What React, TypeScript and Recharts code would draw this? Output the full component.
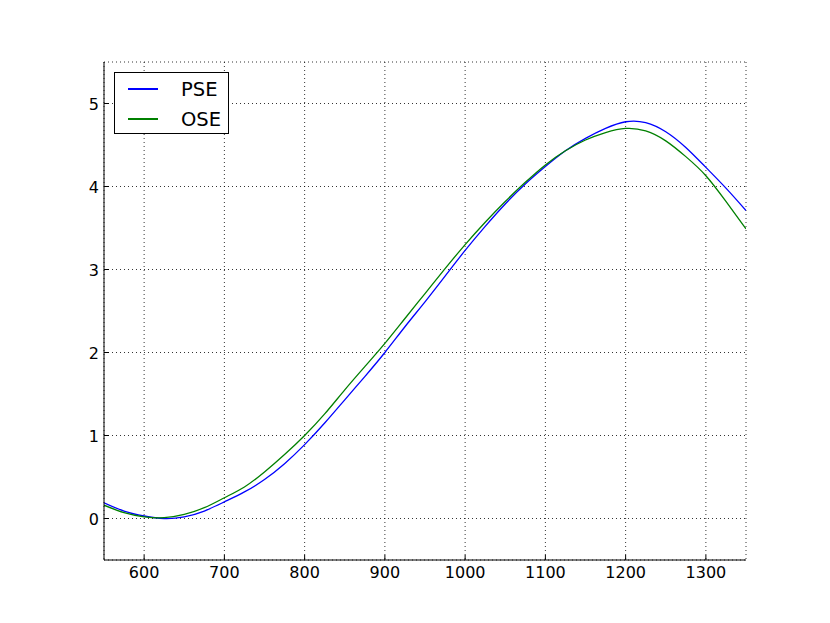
import { LineChart, Line, XAxis, YAxis, CartesianGrid } from "recharts"

const wavelengths = [
  550, 575, 600, 625, 650, 675, 700, 725, 750, 775, 800, 825, 850, 875, 900, 925, 950,
  975, 1000, 1025, 1050, 1075, 1100, 1125, 1150, 1175, 1200, 1225, 1250, 1275, 1300, 1325, 1350,
]

const pse = [
  0.19, 0.09, 0.03, 0.0, 0.02, 0.09, 0.2, 0.32, 0.47, 0.66, 0.89, 1.15, 1.43, 1.71, 2.0, 2.31, 2.61,
  2.92, 3.23, 3.52, 3.79, 4.03, 4.24, 4.43, 4.58, 4.7, 4.78, 4.77, 4.66, 4.47, 4.23, 3.98, 3.71,
]

const ose = [
  0.16, 0.07, 0.02, 0.01, 0.05, 0.13, 0.25, 0.38, 0.56, 0.77, 1.0, 1.26, 1.55, 1.83, 2.11, 2.41, 2.71,
  3.01, 3.3, 3.57, 3.82, 4.05, 4.26, 4.43, 4.56, 4.65, 4.7, 4.67, 4.55, 4.36, 4.13, 3.82, 3.49,
]

const xTicks = [600, 700, 800, 900, 1000, 1100, 1200, 1300]
const yTicks = [0, 1, 2, 3, 4, 5]

const series = [
  { key: "pse", name: "PSE", color: "#0000ff" },
  { key: "ose", name: "OSE", color: "#008000" },
]

const data = wavelengths.map((w, i) => ({ w, pse: pse[i], ose: ose[i] }))

const FONT = "'DejaVu Sans', sans-serif"

const BottomTick = ({ x, y, payload }: any) => (
  <g>
    <line x1={x} x2={x} y1={y} y2={y - 5} stroke="#000" />
    <text x={x} y={y + 18} textAnchor="middle" fontSize={16} fontFamily={FONT} fill="#000">
      {payload.value}
    </text>
  </g>
)

const TopTick = ({ x, y }: any) => <line x1={x} x2={x} y1={y} y2={y + 5} stroke="#000" />

const LeftTick = ({ x, y, payload }: any) => (
  <g>
    <line x1={x} x2={x + 5} y1={y} y2={y} stroke="#000" />
    <text x={x - 5} y={y + 6} textAnchor="end" fontSize={16} fontFamily={FONT} fill="#000">
      {payload.value}
    </text>
  </g>
)

const RightTick = ({ x, y }: any) => <line x1={x} x2={x - 5} y1={y} y2={y} stroke="#000" />

export default function App() {
  return (
    <div style={{ position: "absolute", left: 0, top: 0, background: "#fff" }}>
      <LineChart
        width={830}
        height={623}
        data={data}
        margin={{ top: 62, right: 84, bottom: 33, left: 64 }}
      >
        <CartesianGrid stroke="#000" strokeDasharray="1 3" strokeWidth={0.8} />
        <XAxis
          dataKey="w"
          type="number"
          domain={[550, 1350]}
          ticks={xTicks}
          height={30}
          tickSize={0}
          tickMargin={0}
          tick={<BottomTick />}
          axisLine={{ stroke: "#000" }}
          tickLine={false}
          allowDataOverflow
        />
        <XAxis
          xAxisId="top"
          orientation="top"
          dataKey="w"
          type="number"
          domain={[550, 1350]}
          ticks={xTicks}
          height={0}
          tickSize={0}
          tickMargin={0}
          tick={<TopTick />}
          axisLine={{ stroke: "#000" }}
          tickLine={false}
        />
        <YAxis
          type="number"
          domain={[-0.5, 5.5]}
          ticks={yTicks}
          width={40}
          tickSize={0}
          tickMargin={0}
          tick={<LeftTick />}
          axisLine={{ stroke: "#000" }}
          tickLine={false}
          allowDataOverflow
        />
        <YAxis
          yAxisId="right"
          orientation="right"
          type="number"
          domain={[-0.5, 5.5]}
          ticks={yTicks}
          width={0}
          tickSize={0}
          tickMargin={0}
          tick={<RightTick />}
          axisLine={{ stroke: "#000" }}
          tickLine={false}
        />
        {series.map((s) => (
          <Line
            key={s.key}
            dataKey={s.key}
            name={s.name}
            type="natural"
            stroke={s.color}
            strokeWidth={1.3}
            dot={false}
            isAnimationActive={false}
          />
        ))}
      </LineChart>
      <div
        style={{
          position: "absolute",
          left: 114,
          top: 72,
          border: "1px solid #000",
          background: "#fff",
          width: 115,
          height: 62,
          boxSizing: "border-box",
          fontFamily: FONT,
          fontSize: 19.5,
          paddingTop: 1,
        }}
      >
        {series.map((s) => (
          <div key={s.key} style={{ display: "flex", alignItems: "center", height: 30 }}>
            <div style={{ width: 30, height: 1.5, background: s.color, marginLeft: 13 }} />
            <span style={{ marginLeft: 23 }}>{s.name}</span>
          </div>
        ))}
      </div>
    </div>
  )
}
